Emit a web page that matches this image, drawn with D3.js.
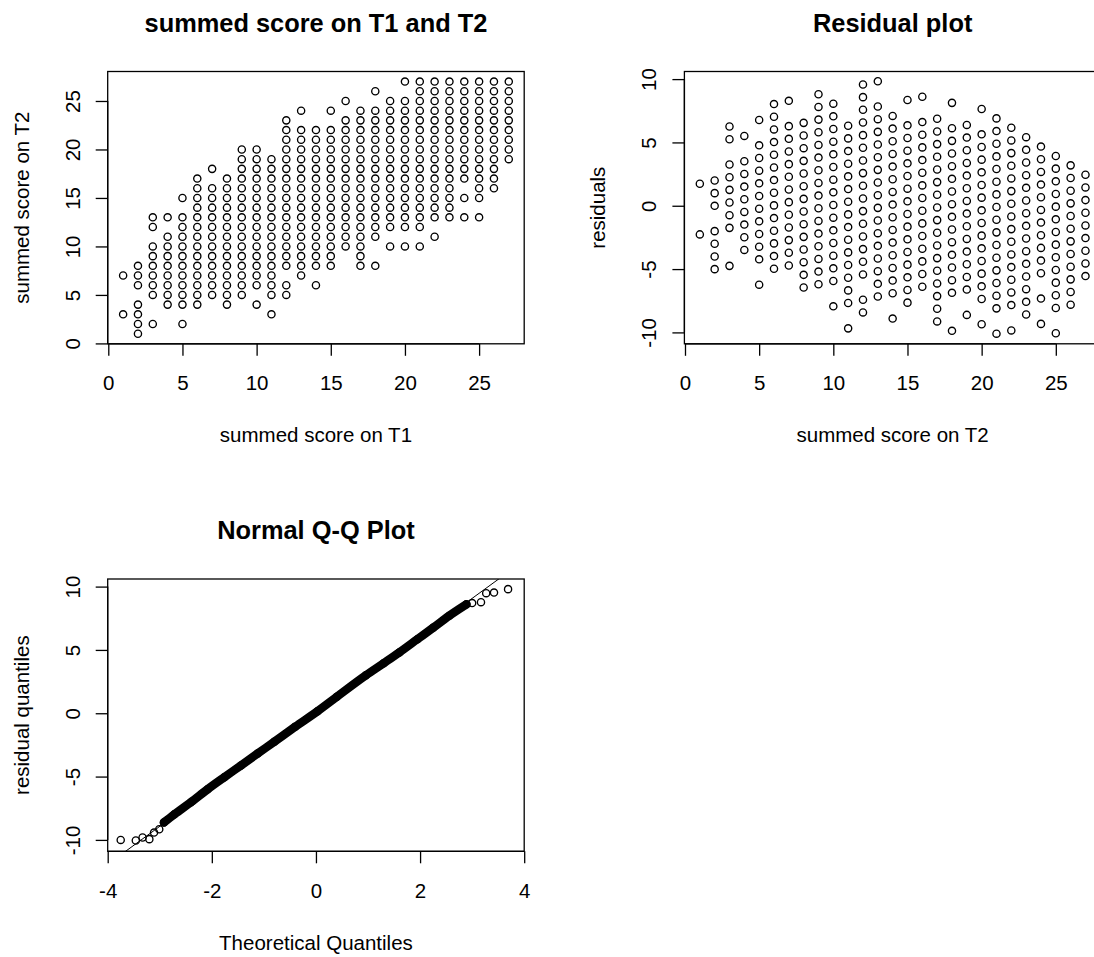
<!DOCTYPE html>
<html>
<head>
<meta charset="utf-8">
<script src="https://cdn.jsdelivr.net/npm/d3@7"></script>
<style>
  body { margin: 0; background: #ffffff; }
  svg { display: block; }
  text { font-family: "Liberation Sans", Arial, Helvetica, sans-serif; fill: #000; }
</style>
</head>
<body>
<svg id="chart" width="1094" height="957"></svg>
<script>
// ---------------- DATA ----------------
// Panel 1: summed score on T1 (x) and the distinct T2 scores observed at each T1 value
const t1Scores = [1,2,3,4,5,6,7,8,9,10,11,12,13,14,15,16,17,18,19,20,21,22,23,24,25,26,27];
const t2Scores = [
  [3,7],
  [1,2,3,4,6,7,8],
  [2,5,6,7,8,9,10,12,13],
  [4,5,6,7,8,9,10,11,13],
  [2,4,5,6,7,8,9,10,11,12,13,15],
  [4,5,6,7,8,9,10,11,12,13,14,15,16,17],
  [5,6,7,8,9,10,11,12,13,14,15,16,18],
  [4,5,6,7,8,9,10,11,12,13,14,15,16,17],
  [5,6,7,8,9,10,11,12,13,14,15,16,17,18,19,20],
  [4,6,7,8,9,10,11,12,13,14,15,16,17,18,19,20],
  [3,5,6,7,8,9,10,11,12,13,14,15,16,17,18,19],
  [5,6,8,9,10,11,12,13,14,15,16,17,18,19,20,21,22,23],
  [7,8,9,10,11,12,13,14,15,16,17,18,19,20,21,22,24],
  [6,8,9,10,11,12,13,14,15,16,17,18,19,20,21,22],
  [8,9,10,11,12,13,14,15,16,17,18,19,20,21,22,24],
  [10,11,12,13,14,15,16,17,18,19,20,21,22,23,25],
  [8,9,10,11,12,13,14,15,16,17,18,19,20,21,22,23,24],
  [8,11,12,13,14,15,16,17,18,19,20,21,22,23,24,26],
  [10,12,13,14,15,16,17,18,19,20,21,22,23,24,25],
  [10,12,13,14,15,16,17,18,19,20,21,22,23,24,25,27],
  [10,12,13,14,15,16,17,18,19,20,21,22,23,24,25,26,27],
  [11,13,14,15,16,17,18,19,20,21,22,23,24,25,26,27],
  [13,14,15,16,17,18,19,20,21,22,23,24,25,26,27],
  [13,15,17,18,19,20,21,22,23,24,25,26,27],
  [13,15,16,17,18,19,20,21,22,23,24,25,26,27],
  [16,17,18,19,20,21,22,23,24,25,26,27],
  [19,20,21,22,23,24,25,26,27]
];
// Panel 2: fitted regression line T2 ~ T1 (intercept, slope)
const regressionCoef = [4.52, 0.742];

// Panel 3: Normal Q-Q plot of the residuals (theoretical quantile, residual quantile)
const qqTheoretical = [-3.75,-3.46,-3.33,-3.20,-3.11,-3.01,-2.92,-2.72,-2.40,-2.08,-1.76,-1.44,-1.12,-0.80,-0.40,0.03,0.40,0.96,1.30,1.60,1.95,2.25,2.56,2.89,3.00,3.17,3.27,3.42,3.69];
const qqResidual    = [-10.00,-10.05,-9.81,-9.94,-9.42,-9.16,-8.62,-7.98,-7.02,-6.00,-5.05,-4.12,-3.18,-2.25,-1.07,0.16,1.30,3.00,3.95,4.80,5.85,6.75,7.70,8.60,8.70,8.77,9.48,9.53,9.80];
const qqDenseRange = [6, 23];          // indices where thousands of points overlap into a solid band
const qqLineCoef = [0.07, 3.0];        // qqline intercept, slope

// Axis ticks and limits
const scoreTicks = [0,5,10,15,20,25];
const residTicks = [-10,-5,0,5,10];
const qqXTicks = [-4,-2,0,2,4];
const scoreLimits = [-0.04, 28.04];
const residLimits = [-10.9, 10.6];
const qqXLimits = [-4, 4];

// Text
const titles = ["summed score on T1 and T2", "Residual plot", "Normal Q-Q Plot"];
const xLabels = ["summed score on T1", "summed score on T2", "Theoretical Quantiles"];
const yLabels = ["summed score on T2", "residuals", "residual quantiles"];

// ---------------- LAYOUT ----------------
const svg = d3.select("#chart");
const PW = 416.5, PH = 272.3;
const layout = [
  { left: 107.7, top: 71.5 },
  { left: 684.4, top: 71.5 },
  { left: 107.7, top: 579 }
];
const AXIS_FONT = 20.5, TITLE_FONT = 25.4;
const fmt = d => String(d);   // plain hyphen-minus like R

function makePanel(i, xDomain, yDomain, xTicks, yTicks) {
  const L = layout[i];
  const g = svg.append("g").attr("transform", `translate(${L.left},${L.top})`);
  const x = d3.scaleLinear().domain(xDomain).range([0, PW]);
  const y = d3.scaleLinear().domain(yDomain).range([PH, 0]);

  svg.append("clipPath").attr("id", "clip" + i)
    .append("rect").attr("x", 0).attr("y", 0).attr("width", PW).attr("height", PH);

  const xAxis = d3.axisBottom(x).tickValues(xTicks).tickSize(12).tickSizeOuter(0).tickPadding(20)
    .tickFormat(fmt);
  const gx = g.append("g").attr("transform", `translate(0,${PH})`).call(xAxis);
  gx.select(".domain").remove();
  gx.selectAll(".tick line").attr("stroke", "#000").attr("stroke-width", 1.3);
  gx.selectAll(".tick text").attr("font-size", AXIS_FONT).attr("fill", "#000");

  const yAxis = d3.axisLeft(y).tickValues(yTicks).tickSize(12).tickSizeOuter(0).tickFormat(fmt);
  const gy = g.append("g").call(yAxis);
  gy.select(".domain").remove();
  gy.selectAll(".tick line").attr("stroke", "#000").attr("stroke-width", 1.3);
  gy.selectAll(".tick text")
    .attr("font-size", AXIS_FONT).attr("fill", "#000")
    .attr("x", null).attr("dy", null)
    .attr("text-anchor", "middle")
    .attr("transform", "translate(-28.2,0) rotate(-90)");
  g.selectAll(".tick text").attr("font-family", null);
  g.selectAll(".tick").each(function() { d3.select(this.parentNode).attr("font-family", null); });

  // axis lines between first and last ticks
  g.append("line").attr("x1", x(xTicks[0])).attr("x2", x(xTicks[xTicks.length-1]))
    .attr("y1", PH).attr("y2", PH).attr("stroke", "#000").attr("stroke-width", 1.3);
  g.append("line").attr("y1", y(yTicks[0])).attr("y2", y(yTicks[yTicks.length-1]))
    .attr("x1", 0).attr("x2", 0).attr("stroke", "#000").attr("stroke-width", 1.3);

  // box
  g.append("rect").attr("x", 0).attr("y", 0).attr("width", PW).attr("height", PH)
    .attr("fill", "none").attr("stroke", "#000").attr("stroke-width", 1.3);

  // titles and labels
  g.append("text").attr("x", PW / 2).attr("y", -40).attr("text-anchor", "middle")
    .attr("font-size", TITLE_FONT).attr("font-weight", "bold").text(titles[i]);
  g.append("text").attr("x", PW / 2).attr("y", PH + 98.5).attr("text-anchor", "middle")
    .attr("font-size", AXIS_FONT).text(xLabels[i]);
  g.append("text").attr("transform", `translate(-79.2,${PH / 2}) rotate(-90)`)
    .attr("text-anchor", "middle").attr("font-size", AXIS_FONT).text(yLabels[i]);

  const plot = g.append("g").attr("clip-path", `url(#clip${i})`);
  return { g, plot, x, y };
}

function drawPoints(plot, data, fx, fy) {
  plot.selectAll("circle.pt").data(data).join("circle")
    .attr("class", "pt")
    .attr("cx", fx).attr("cy", fy).attr("r", 3.6)
    .attr("fill", "none").attr("stroke", "#000").attr("stroke-width", 1.35);
}

// ---------------- PANEL 1 ----------------
const pairs = t1Scores.flatMap((t1, i) => t2Scores[i].map(t2 => ({ t1, t2 })));
const p1 = makePanel(0, scoreLimits, scoreLimits, scoreTicks, scoreTicks);
drawPoints(p1.plot, pairs, d => p1.x(d.t1), d => p1.y(d.t2));

// ---------------- PANEL 2 ----------------
const residPoints = pairs.map(d => ({ t1: d.t1, r: d.t2 - (regressionCoef[0] + regressionCoef[1] * d.t1) }));
const p2 = makePanel(1, scoreLimits, residLimits, scoreTicks, residTicks);
drawPoints(p2.plot, residPoints, d => p2.x(d.t1), d => p2.y(d.r));

// ---------------- PANEL 3 ----------------
const qq = qqTheoretical.map((t, i) => ({ t, r: qqResidual[i] }));
const p3 = makePanel(2, qqXLimits, residLimits, qqXTicks, residTicks);
p3.plot.append("line")
  .attr("x1", p3.x(qqXLimits[0])).attr("y1", p3.y(qqLineCoef[0] + qqLineCoef[1] * qqXLimits[0]))
  .attr("x2", p3.x(qqXLimits[1])).attr("y2", p3.y(qqLineCoef[0] + qqLineCoef[1] * qqXLimits[1]))
  .attr("stroke", "#000").attr("stroke-width", 1);
const dense = qq.slice(qqDenseRange[0], qqDenseRange[1] + 1);
p3.plot.append("path").datum(dense)
  .attr("d", d3.line().x(d => p3.x(d.t)).y(d => p3.y(d.r)).curve(d3.curveMonotoneX))
  .attr("fill", "none").attr("stroke", "#000").attr("stroke-width", 8.5)
  .attr("stroke-linecap", "round").attr("stroke-linejoin", "round");
drawPoints(p3.plot, qq, d => p3.x(d.t), d => p3.y(d.r));
</script>
</body>
</html>
